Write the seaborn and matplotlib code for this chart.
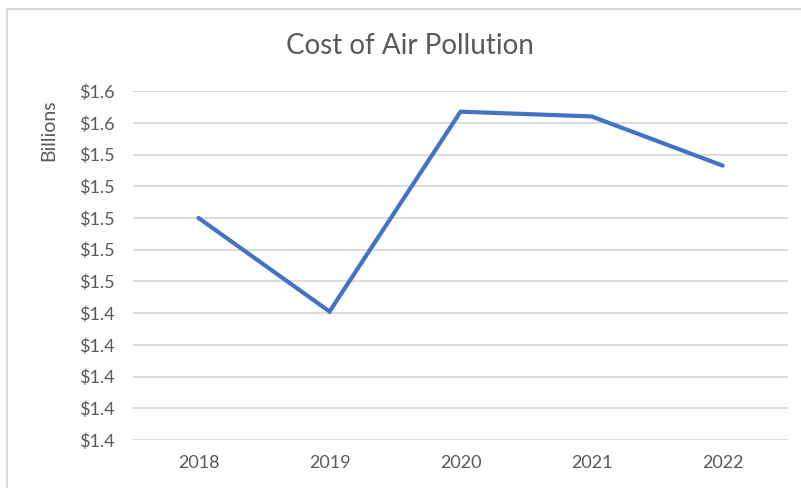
import matplotlib
matplotlib.use("Agg")
import matplotlib.pyplot as plt
import pandas as pd
import seaborn as sns

# chart data (billions of dollars)
years = ["2018", "2019", "2020", "2021", "2022"]
cost = [1.500, 1.441, 1.567, 1.564, 1.533]
y_ticks = [1.36, 1.38, 1.40, 1.42, 1.44, 1.46, 1.48, 1.50, 1.52, 1.54, 1.56, 1.58]

df = pd.DataFrame({"year": years, "cost": cost})

sns.set_theme(style="white")
plt.rcParams["font.family"] = ["Lato", "DejaVu Sans"]

fig = plt.figure(figsize=(8.01, 4.88), dpi=100)
ax = fig.add_axes([0.166, 0.0984, 0.818, 0.715])

sns.lineplot(data=df, x="year", y="cost", ax=ax, color="#4472C4",
             linewidth=3.0, solid_capstyle="round", solid_joinstyle="miter")

ax.set_xlim(-0.5, 4.5)
ax.set_ylim(1.36, 1.58)
ax.set_yticks(y_ticks)
ax.set_yticklabels([f"${v:.1f}" for v in y_ticks])
ax.grid(axis="y", color="#D9D9D9", linewidth=1.3)
ax.set_axisbelow(True)
for s in ax.spines.values():
    s.set_visible(False)
ax.tick_params(axis="both", length=0, labelsize=13, colors="#595959")
ax.tick_params(axis="y", pad=13)
ax.tick_params(axis="x", pad=11)
ax.set_xlabel("")
ax.set_ylabel("")

fig.text(0.512, 0.906, "Cost of Air Pollution", ha="center", va="center",
         fontsize=20, color="#595959")
fig.text(0.061, 0.734, "Billions", ha="center", va="center", rotation=90,
         fontsize=14, color="#595959")

# chart frame (top and left edges visible)
fig.add_artist(plt.Line2D([0.009, 1.0], [0.981, 0.981], transform=fig.transFigure,
                          color="#D9D9D9", linewidth=1.5))
fig.add_artist(plt.Line2D([0.009, 0.009], [0.0, 0.981], transform=fig.transFigure,
                          color="#D9D9D9", linewidth=1.5))

fig.savefig("out.png", dpi=100)
